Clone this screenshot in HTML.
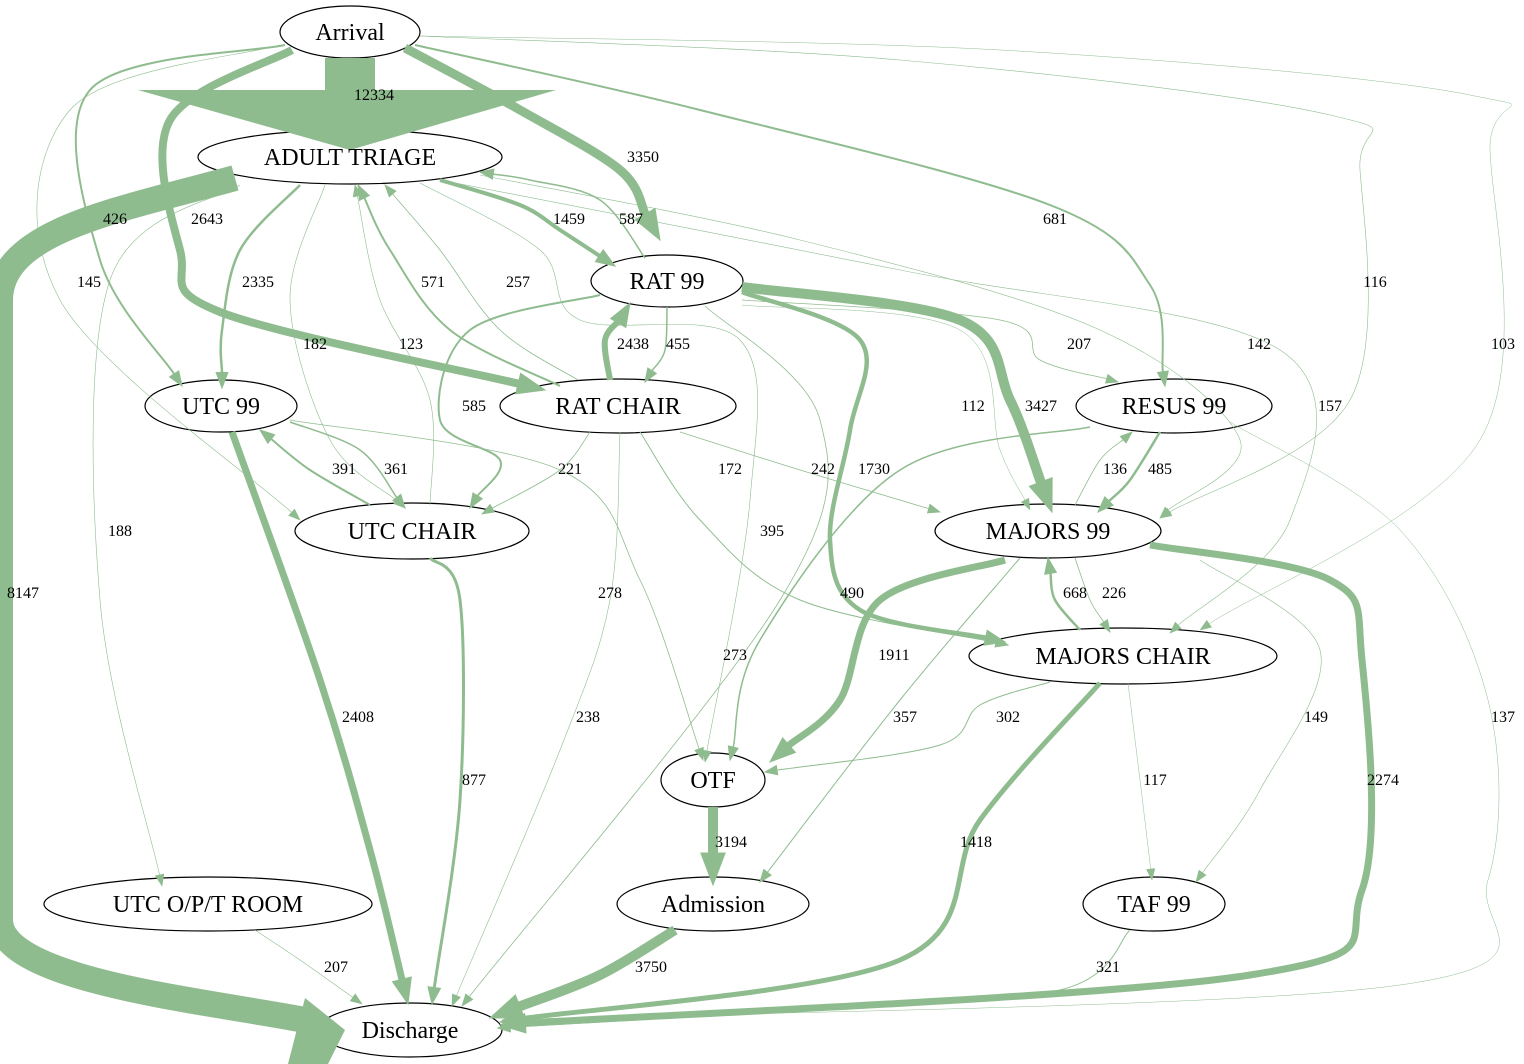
<!DOCTYPE html>
<html><head><meta charset="utf-8"><style>
html,body{margin:0;padding:0;background:#fff;}
svg{display:block}
text{font-family:"Liberation Serif",serif;}
</style></head><body>
<svg id="s" width="1524" height="1064" viewBox="0 0 1524 1064" xmlns="http://www.w3.org/2000/svg">
<g id="nodes" fill="#fff" stroke="#000" stroke-width="1.2">
<ellipse cx="350" cy="32" rx="70" ry="26"/>
<ellipse cx="350" cy="157" rx="152" ry="27"/>
<ellipse cx="667" cy="281" rx="76" ry="26"/>
<ellipse cx="221" cy="406" rx="76" ry="26"/>
<ellipse cx="618" cy="406" rx="118" ry="27"/>
<ellipse cx="1174" cy="406" rx="98" ry="27"/>
<ellipse cx="412" cy="531" rx="117" ry="28"/>
<ellipse cx="1048" cy="531" rx="113" ry="27"/>
<ellipse cx="1123" cy="656" rx="154" ry="28"/>
<ellipse cx="713" cy="780" rx="52" ry="27"/>
<ellipse cx="713" cy="904" rx="96" ry="27"/>
<ellipse cx="1154" cy="904" rx="71" ry="27"/>
<ellipse cx="208" cy="904" rx="164" ry="27"/>
<ellipse cx="410" cy="1030" rx="92" ry="27"/>
</g>
<g id="edges"></g>
<g id="labels" font-size="16" text-anchor="middle" fill="#000"></g>
<g font-size="24" text-anchor="middle" fill="#000">
<text x="350" y="40">Arrival</text>
<text x="350" y="165">ADULT TRIAGE</text>
<text x="667" y="289">RAT 99</text>
<text x="221" y="414">UTC 99</text>
<text x="618" y="414">RAT CHAIR</text>
<text x="1174" y="414">RESUS 99</text>
<text x="412" y="539">UTC CHAIR</text>
<text x="1048" y="539">MAJORS 99</text>
<text x="1123" y="664">MAJORS CHAIR</text>
<text x="713" y="788">OTF</text>
<text x="713" y="912">Admission</text>
<text x="1154" y="912">TAF 99</text>
<text x="208" y="912">UTC O/P/T ROOM</text>
<text x="410" y="1038">Discharge</text>
</g>
</svg>
<script>
var C="#8fbc8f";
var E=[
[9,[[405,48],[520,110],[620,170],[660,240]],"3350",643,157],
[2,[[285,45],[90,90],[100,260],[182,386]],"426",115,219],
[8,[[292,50],[170,120],[180,250],[220,312],[545,390]],"2643",207,219],
[0.6,[[280,45],[70,110],[60,300],[300,520]],"145",89,282],
[2,[[415,45],[700,110],[1050,205],[1150,285],[1165,386]],"681",1055,219],
[0.6,[[420,36],[900,60],[1330,115],[1360,170],[1350,400],[1160,518]],"116",1375,282],
[0.5,[[420,36],[1000,50],[1470,95],[1490,150],[1480,440],[1200,630]],"103",1503,344],
[2.5,[[300,185],[240,250],[222,330],[222,388]],"2335",258,282],
[4,[[440,180],[520,205],[560,230],[615,266]],"1459",569,219],
[1.5,[[645,258],[600,200],[530,180],[480,172]],"587",631,219],
[2,[[560,386],[450,330],[390,250],[358,185]],"571",433,282],
[0.8,[[578,380],[500,330],[440,250],[385,185]],"257",518,282],
[0.6,[[430,505],[430,400],[380,300],[355,185]],"123",411,344],
[0.6,[[325,185],[290,300],[330,440],[405,508]],"182",315,344],
[0.6,[[240,185],[110,280],[100,600],[162,886]],"188",120,531],
[0.6,[[420,183],[540,250],[580,320],[740,340],[750,500],[705,762]],"172",730,469],
[0.6,[[480,175],[800,240],[1100,330],[1240,440],[1160,518]],"142",1259,344],
[0.6,[[440,180],[900,270],[1280,350],[1290,520],[1170,633]],"157",1330,406],
[1.5,[[667,307],[665,350],[645,382]],"455",678,344],
[6,[[610,380],[605,340],[620,320],[630,303]],"2438",633,344],
[2,[[600,295],[470,330],[440,420],[500,460],[470,508]],"585",474,406],
[10,[[742,287],[960,320],[1010,400],[1052,512]],"3427",1041,406],
[4.5,[[742,292],[860,340],[850,430],[830,540],[860,610],[1005,642]],"1730",874,469],
[0.8,[[742,300],[1000,320],[1040,360],[1118,382]],"207",1079,344],
[0.5,[[742,305],[960,330],[1000,450],[1030,510]],"112",973,406],
[0.8,[[705,306],[820,420],[780,600],[462,1006]],"395",772,531],
[0.8,[[680,432],[800,470],[940,512]],"242",823,469],
[0.8,[[590,432],[560,470],[482,514]],"221",570,469],
[1,[[640,432],[700,520],[800,600],[1008,645]],"490",852,593],
[0.6,[[620,432],[610,600],[560,750],[452,1006]],"238",588,717],
[7,[[232,432],[320,680],[370,850],[408,1004]],"2408",358,717],
[1.5,[[290,422],[360,450],[405,508]],"361",396,469],
[2,[[370,505],[310,470],[260,430]],"391",344,469],
[0.8,[[290,420],[560,470],[640,580],[703,760]],"278",610,593],
[3,[[430,558],[460,600],[460,800],[432,1004]],"877",474,780],
[1.5,[[1090,427],[900,470],[760,640],[730,760]],"273",735,655],
[2.5,[[1160,432],[1130,480],[1098,512]],"485",1160,469],
[0.8,[[1075,505],[1100,460],[1132,432]],"136",1115,469],
[0.5,[[1230,422],[1400,530],[1488,700],[1488,880],[1400,985],[502,1020]],"137",1503,717],
[7,[[1005,560],[880,600],[840,700],[770,762]],"1911",894,655],
[1,[[1020,558],[900,700],[760,882]],"357",905,717],
[0.8,[[1075,558],[1090,600],[1110,632]],"226",1114,593],
[2.5,[[1080,630],[1055,600],[1048,558]],"668",1075,593],
[0.6,[[1200,560],[1320,650],[1260,790],[1196,882]],"149",1316,717],
[7,[[1150,545],[1330,580],[1362,660],[1362,890],[1250,975],[500,1025]],"2274",1383,780],
[1,[[1050,682],[980,705],[940,745],[765,772]],"302",1008,717],
[0.5,[[1128,683],[1140,780],[1152,880]],"117",1155,780],
[5,[[1100,683],[980,820],[900,960],[500,1022]],"1418",976,842],
[10,[[713,807],[713,835],[713,885]],"3194",731,842],
[10,[[675,930],[600,975],[490,1018]],"3750",651,967],
[1,[[1130,930],[1060,990],[800,1010],[498,1028]],"321",1108,967],
[0.6,[[255,930],[300,960],[362,1004]],"207",336,967]
];
var eg=document.getElementById('edges'),lg=document.getElementById('labels'),NS="http://www.w3.org/2000/svg";
function el(t,a,p){var e=document.createElementNS(NS,t);for(var k in a)e.setAttribute(k,a[k]);p.appendChild(e);return e;}
function spline(p){var d="M"+p[0][0]+","+p[0][1];for(var i=0;i<p.length-1;i++){var p0=p[i-1]||p[i],p1=p[i],p2=p[i+1],p3=p[i+2]||p2;
var c1=[p1[0]+(p2[0]-p0[0])/6,p1[1]+(p2[1]-p0[1])/6],c2=[p2[0]-(p3[0]-p1[0])/6,p2[1]-(p3[1]-p1[1])/6];
d+=" C"+c1[0].toFixed(1)+","+c1[1].toFixed(1)+" "+c2[0].toFixed(1)+","+c2[1].toFixed(1)+" "+p2[0].toFixed(1)+","+p2[1].toFixed(1);}return d;}
E.forEach(function(e){var w=e[0],p=e[1].map(function(q){return q.slice();});var n=p.length,tip=p[n-1],pr=p[n-2];
var dx=tip[0]-pr[0],dy=tip[1]-pr[1],L=Math.hypot(dx,dy);dx/=L;dy/=L;var al=10+2.2*w,hw=Math.max(3.5,al*0.38);
var base=[tip[0]-dx*al,tip[1]-dy*al];p[n-1]=base;
el('path',{d:spline(p),fill:'none',stroke:C,'stroke-width':w},eg);
el('polygon',{points:tip[0]+","+tip[1]+" "+(base[0]-dy*hw)+","+(base[1]+dx*hw)+" "+(base[0]+dy*hw)+","+(base[1]-dx*hw),fill:C,stroke:C,'stroke-width':Math.min(w,1)},eg);
var t=el('text',{x:e[3],y:e[4]+5},lg);t.textContent=e[2];});
el('path',{d:"M235,178 C120,210 0,230 0,300 L0,920 C0,980 200,1000 305,1020",fill:'none',stroke:C,'stroke-width':26},eg);
el('polygon',{points:"288,1064 328,1064 345,1030 305,998",fill:C},eg);
var t=el('text',{x:23,y:598},lg);t.textContent="8147";
el('rect',{x:325,y:58,width:50,height:34,fill:C},eg);
el('polygon',{points:"138,90 556,90 350,150",fill:C},eg);
t=el('text',{x:374,y:100},lg);t.textContent="12334";
</script>
</body></html>
